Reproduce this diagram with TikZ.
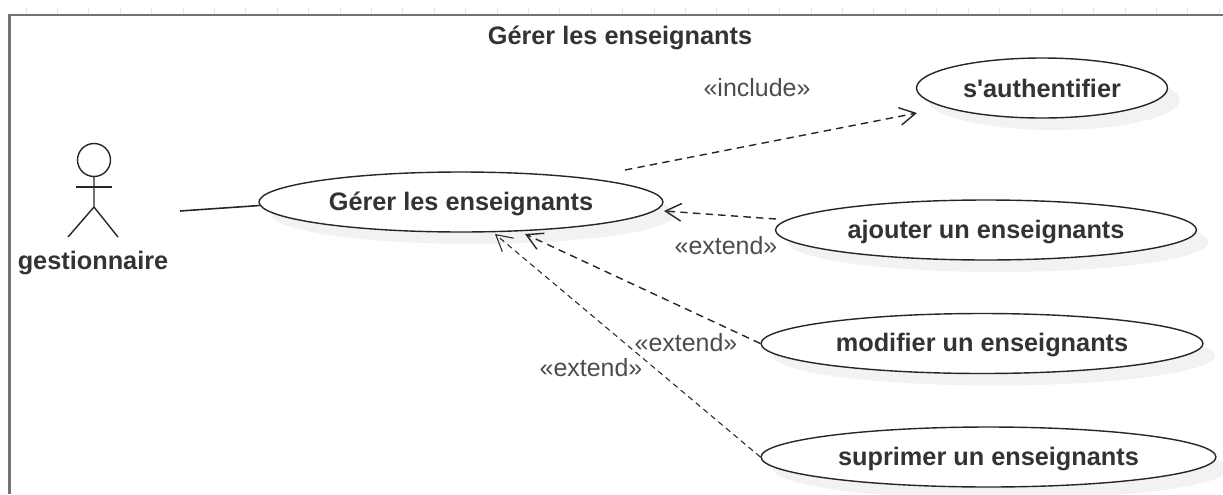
\documentclass[tikz,border=0pt]{standalone}
\usepackage{fontspec}
\setmainfont{Liberation Sans}[Ligatures=TeXOff]
\usetikzlibrary{shapes.geometric,shadows,arrows.meta}

\begin{document}
\begin{tikzpicture}[x=.02cm,y=-.02cm,every node/.style={text=black!80}]
\tikzstyle{usecase}=[draw=black!85,fill=white,ellipse,line width=.8pt,inner sep=0,minimum height=1.2cm,
  text height=10.5pt,text depth=1.3pt,
  font=\fontsize{14.4}{16}\selectfont\bfseries,drop shadow={shadow xshift=.24cm,shadow yshift=-.24cm,fill=black!5,opacity=1}]
\tikzstyle{stereo}=[font=\fontsize{14.2}{16}\selectfont,text=black!70]
\tikzstyle{dep}=[-{Straight Barb[length=9pt,width=10pt]},line width=.8pt,black!85,dash pattern=on 4.2pt off 3pt]

\useasboundingbox (0,0) rectangle (1223,494);

% frame of the picture
\foreach \x in {0,1,...,38} {
  \draw[black!10,line width=.4pt] (26+31.4*\x,8) -- ++(0,7);
}
\draw[black!55,line width=1.5pt] (9.5,494) -- (9.5,15) -- (1223,15);

\node[font=\fontsize{14.4}{16}\selectfont\bfseries] (title) at (620,37.5) {Gérer les enseignants};

% actor
\draw[black!85,line width=.8pt] (94,160) circle (16.5);
\draw[black!85,line width=.8pt] (94,176.5) -- (94,207) -- (68,237);
\draw[black!85,line width=.8pt] (94,207) -- (118,237);
\draw[black!85,line width=.8pt] (76,187) -- (112,187);
\node[font=\fontsize{14.4}{16}\selectfont\bfseries] (gestionnaire) at (93,263) {gestionnaire};

% use cases
\node[usecase,minimum width=8.08cm] (gerer) at (461,202) {Gérer les enseignants};
\node[usecase,minimum width=5.02cm,text depth=0pt] (authentifier) at (1042,88) {s'authentifier};
\node[usecase,minimum width=8.42cm] (ajouter) at (986,230) {ajouter un enseignants};
\node[usecase,minimum width=8.84cm] (modifier) at (982,343.5) {modifier un enseignants};
\node[usecase,minimum width=9.10cm] (suprimer) at (988.5,457) {suprimer un enseignants};

\coordinate (actorEnd) at (180,211);
\coordinate (includeStart) at (625,170);
\coordinate (includeEnd) at (917,113);
\coordinate (ajouterStart) at (776,219);
\coordinate (ajouterEnd) at (664,211);
\coordinate (modifierEnd) at (525,234);
\coordinate (suprimerEnd) at (495,234);

\draw[black!85,line width=.9pt] (actorEnd) -- (gerer.181);
\draw[dep] (includeStart) -- (includeEnd);
\draw[dep] (ajouterStart) -- (ajouterEnd);
\draw[dep] (modifier.west) -- (modifierEnd);
\draw[dep,line width=.6pt,dash pattern=on 3.2pt off 2.4pt] (suprimer.west) -- (suprimerEnd);

\node[stereo] (include) at (757,88) {«include»};
\node[stereo] (extendA) at (726,246) {«extend»};
\node[stereo] (extendB) at (686,343) {«extend»};
\node[stereo] (extendC) at (591,368) {«extend»};
\end{tikzpicture}
\end{document}
